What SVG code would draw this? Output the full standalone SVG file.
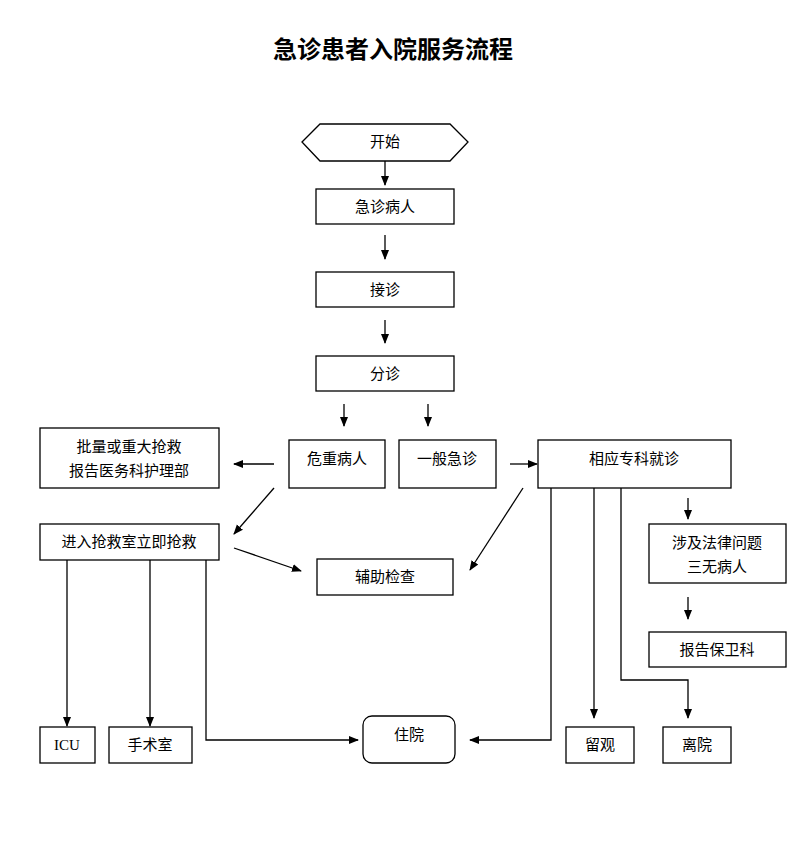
<svg xmlns="http://www.w3.org/2000/svg" width="800" height="843" viewBox="0 0 800 843">
<style>
.b{fill:#fff;stroke:#000;stroke-width:1.3}
.t{font-family:"Liberation Serif","Noto Sans CJK SC",serif;font-size:15px;text-anchor:middle;fill:#000}
.l{fill:none;stroke:#000;stroke-width:1.3;marker-end:url(#a)}
</style>
<defs><marker id="a" markerWidth="10" markerHeight="10" refX="9" refY="5" orient="auto" markerUnits="userSpaceOnUse"><path d="M0,1 L10,5 L0,9 Z" fill="#000"/></marker></defs>
<rect width="800" height="843" fill="#fff"/>
<text x="393" y="58" class="t" style="font-size:24px;font-weight:bold">急诊患者入院服务流程</text>
<g id="start"><polygon class="b" points="302,142 320,124 450,124 468,142 450,161 320,161"/><text class="t" x="385" y="147">开始</text></g>
<g id="n1"><rect class="b" x="316" y="189" width="138" height="35"/><text class="t" x="385" y="212">急诊病人</text></g>
<g id="n2"><rect class="b" x="316" y="272" width="138" height="35"/><text class="t" x="385" y="295">接诊</text></g>
<g id="n3"><rect class="b" x="316" y="356" width="138" height="35"/><text class="t" x="385" y="379">分诊</text></g>
<g id="n4"><rect class="b" x="289" y="440" width="96" height="48"/><text class="t" x="337" y="464">危重病人</text></g>
<g id="n5"><rect class="b" x="399" y="440" width="97" height="48"/><text class="t" x="447" y="464">一般急诊</text></g>
<g id="n6"><rect class="b" x="40" y="428" width="179" height="60"/><text class="t" x="129" y="452">批量或重大抢救</text><text class="t" x="129" y="476">报告医务科护理部</text></g>
<g id="n7"><rect class="b" x="538" y="440" width="193" height="48"/><text class="t" x="634" y="464">相应专科就诊</text></g>
<g id="n8"><rect class="b" x="40" y="524" width="179" height="36"/><text class="t" x="129" y="547">进入抢救室立即抢救</text></g>
<g id="n9"><rect class="b" x="317" y="559" width="136" height="36"/><text class="t" x="385" y="582">辅助检查</text></g>
<g id="n10"><rect class="b" x="649" y="524" width="137" height="59"/><text class="t" x="717" y="548">涉及法律问题</text><text class="t" x="717" y="572">三无病人</text></g>
<g id="n11"><rect class="b" x="649" y="632" width="137" height="35"/><text class="t" x="717" y="655">报告保卫科</text></g>
<g id="n12"><rect class="b" x="40" y="727" width="55" height="36"/><text class="t" x="67" y="750">ICU</text></g>
<g id="n13"><rect class="b" x="109" y="727" width="83" height="36"/><text class="t" x="150" y="750">手术室</text></g>
<g id="n14"><rect class="b" x="363" y="716" width="92" height="47" rx="9"/><text class="t" x="409" y="740">住院</text></g>
<g id="n15"><rect class="b" x="566" y="727" width="68" height="36"/><text class="t" x="600" y="750">留观</text></g>
<g id="n16"><rect class="b" x="663" y="727" width="68" height="36"/><text class="t" x="697" y="750">离院</text></g>
<g id="connectors">
<path class="l" d="M385,161V185"/>
<path class="l" d="M385,235V259"/>
<path class="l" d="M385,320V343"/>
<path class="l" d="M344,404V426"/>
<path class="l" d="M428,404V426"/>
<path class="l" d="M274,464H234"/>
<path class="l" d="M510,464H537"/>
<path class="l" d="M274,488L234,534"/>
<path class="l" d="M234,548L301,571"/>
<path class="l" d="M523,488L470,570"/>
<path class="l" d="M688,498V519"/>
<path class="l" d="M688,597V619"/>
<path class="l" d="M67,560V726"/>
<path class="l" d="M150,560V726"/>
<path class="l" d="M206,560V740H358"/>
<path class="l" d="M551,488V740H470"/>
<path class="l" d="M594,488V718"/>
<path class="l" d="M621,488V680H688V718"/>
</g>
</svg>
